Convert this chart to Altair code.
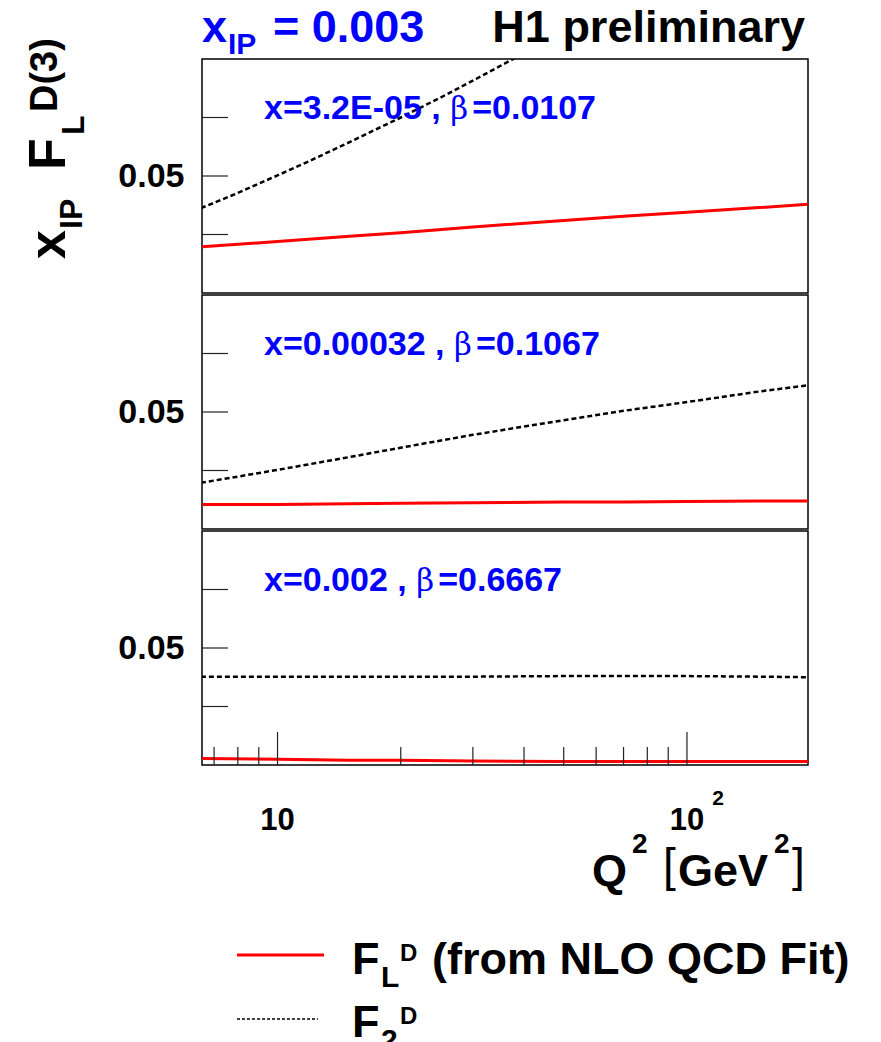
import altair as alt
import pandas as pd

# ---------------- data ----------------
q2 = [6.5, 10, 15, 20, 30, 50, 70, 100, 150, 200]

# panel 1 : x=3.2E-05, beta=0.0107
fl_1 = [0.0379, 0.0388, 0.0397, 0.0403, 0.0413, 0.0424, 0.0431, 0.0438, 0.0446, 0.0452]
q2_f2_1 = [6.5, 8, 10, 12, 15, 20, 25, 30, 40]
f2_1 = [0.0445, 0.0471, 0.0501, 0.0526, 0.0558, 0.0600, 0.0634, 0.0663, 0.0710]

# panel 2 : x=0.00032, beta=0.1067
fl_2 = [0.0342, 0.0342, 0.0343, 0.0344, 0.0345, 0.0346, 0.0346, 0.0347, 0.0348, 0.0348]
f2_2 = [0.0379, 0.0401, 0.0423, 0.0439, 0.0461, 0.0486, 0.0502, 0.0517, 0.0535, 0.0546]

# panel 3 : x=0.002, beta=0.6667
fl_3 = [0.0311, 0.0310, 0.0308, 0.0308, 0.0307, 0.0306, 0.0306, 0.0306, 0.0306, 0.0306]
f2_3 = [0.0451, 0.0451, 0.0451, 0.0451, 0.0451, 0.0452, 0.0452, 0.0452, 0.0451, 0.0450]

x_bins = ["x=3.2E-05 , ", "x=0.00032 , ", "x=0.002 , "]
betas = ["=0.0107", "=0.1067", "=0.6667"]

y_ticks = [0.04, 0.05, 0.06]
y_label_vals = [0.05]
x_minor = [7, 8, 9, 20, 30, 40, 50, 60, 70, 80, 90]
x_major = [10, 100]
x_major_labels = ["10", "10"]

# ---------------- styling ----------------
W, H = 606, 234
XDOM = [6.54, 197.5]
YDOM = [0.03, 0.07]
SANS = "Liberation Sans"
BLUE = "#0000ff"

# Liberation Sans Bold advance widths (em)
AW = {'x': .556, '=': .584, '.': .278, 'E': .667, '-': .333, ' ': .278, ',': .278}
for d in "0123456789":
    AW[d] = .556


def a_width(s, size):
    return sum(AW.get(c, .6) for c in s) * size


xs = alt.Scale(type='log', domain=XDOM)
ys = alt.Scale(domain=YDOM)
yaxis = alt.Axis(values=y_label_vals, format='.2f', ticks=False, domain=False, grid=False,
                 labelFont=SANS, labelFontSize=34, labelFontWeight='bold', labelColor='black',
                 labelPadding=18, labelBaseline='middle', title=None)
X = alt.X('q:Q', scale=xs, axis=None)
Y = alt.Y('v:Q', scale=ys, axis=yaxis)


def txt(text, x, y, size, font=SANS, color='black', weight='bold', align='left', angle=None):
    kw = dict(align=align, baseline='alphabetic', font=font, fontSize=size,
              fontWeight=weight, color=color)
    if angle is not None:
        kw['angle'] = angle
    return alt.Chart(pd.DataFrame({'t': [text]})).mark_text(**kw).encode(
        x=alt.value(x), y=alt.value(y), text='t:N')


def panel(idx, fl_v, f2_q, f2_v):
    layers = []
    top = idx == 0
    # invisible anchor fixing the left / top extent of every panel
    layers.append(alt.Chart(pd.DataFrame({'a': [0]})).mark_rule(color='white', strokeWidth=1).encode(
        x=alt.value(-192), x2=alt.value(-191),
        y=alt.value(-53 if top else 100), y2=alt.value(-52 if top else 101)))
    layers.append(alt.Chart(pd.DataFrame({'v': y_ticks})).mark_rule(color='#222', strokeWidth=1.2).encode(
        y=Y, x=alt.value(0), x2=alt.value(26)))
    layers.append(alt.Chart(pd.DataFrame({'q': f2_q, 'v': f2_v})).mark_line(
        color='black', strokeWidth=2.5, strokeDash=[5, 3], clip=True).encode(x=X, y=Y))
    layers.append(alt.Chart(pd.DataFrame({'q': q2, 'v': fl_v})).mark_line(
        color='red', strokeWidth=3, clip=True).encode(x=X, y=Y))
    # bin annotation
    fs = 34
    bx = 62 + a_width(x_bins[idx], fs)
    layers.append(txt(x_bins[idx], 62, 60, fs, color=BLUE))
    layers.append(txt("β", bx, 60, 31, font="DejaVu Serif", weight='normal', color=BLUE))
    layers.append(txt(betas[idx], bx + 22, 60, fs, color=BLUE))

    if top:
        layers.append(txt("x", 0, -17, 45, color=BLUE))
        layers.append(txt("IP", 26, -5, 30, color=BLUE))
        layers.append(txt("= 0.003", 71, -17, 45, color=BLUE))
        layers.append(txt("H1 preliminary", 603, -17, 45, align='right'))
        # rotated y title
        layers.append(txt("x", -137, 200, 52, angle=270))
        layers.append(txt("IP", -120, 170, 32, angle=270))
        layers.append(txt("F", -137, 111, 52, angle=270))
        layers.append(txt("L", -118, 76, 32, angle=270))
        layers.append(txt("D(3)", -145, 53, 38, angle=270))

    if idx == 2:
        layers.append(alt.Chart(pd.DataFrame({'q': x_minor})).mark_rule(color='#222', strokeWidth=1.2).encode(
            x=X, y=alt.value(H), y2=alt.value(H - 18)))
        layers.append(alt.Chart(pd.DataFrame({'q': x_major})).mark_rule(color='#222', strokeWidth=1.2).encode(
            x=X, y=alt.value(H), y2=alt.value(H - 33)))
        layers.append(alt.Chart(pd.DataFrame({'q': x_major, 't': x_major_labels})).mark_text(
            font=SANS, fontSize=31, fontWeight='bold', color='black', align='center', baseline='alphabetic').encode(
            x=X, y=alt.value(299), text='t:N'))
        layers.append(alt.Chart(pd.DataFrame({'q': [100], 't': ["2"]})).mark_text(
            font=SANS, fontSize=21, fontWeight='bold', color='black', align='center', baseline='alphabetic', dx=31).encode(
            x=X, y=alt.value(274), text='t:N'))
        # axis title Q^2 [GeV^2]
        layers.append(txt("Q", 390, 355, 45))
        layers.append(txt("2", 430, 322, 28))
        layers.append(txt("[", 461, 350, 46, weight='normal'))
        layers.append(txt("GeV", 476, 355, 45))
        layers.append(txt("2", 572, 322, 28))
        layers.append(txt("]", 590, 350, 46, weight='normal'))
        # legend
        layers.append(alt.Chart(pd.DataFrame({'a': [0]})).mark_rule(color='red', strokeWidth=3).encode(
            x=alt.value(35), x2=alt.value(122), y=alt.value(424)))
        layers.append(alt.Chart(pd.DataFrame({'a': [0]})).mark_rule(color='black', strokeWidth=1.6, strokeDash=[3, 2]).encode(
            x=alt.value(35), x2=alt.value(116), y=alt.value(488)))
        layers.append(txt("F", 150, 443, 45))
        layers.append(txt("L", 179, 456, 30))
        layers.append(txt("D", 198, 430, 24))
        layers.append(txt("(from NLO QCD Fit)", 230, 443, 45))
        layers.append(txt("F", 150, 506, 45))
        layers.append(txt("2", 179, 519, 30))
        layers.append(txt("D", 198, 493, 24))

    return alt.layer(*layers).properties(width=W, height=H)


p1 = panel(0, fl_1, q2_f2_1, f2_1)
p2 = panel(1, fl_2, q2, f2_2)
p3 = panel(2, fl_3, q2, f2_3)

chart = alt.vconcat(p1, p2, p3, spacing=0).properties(
    padding={"top": -4, "left": 0, "right": 0, "bottom": 0}, background='white'
).configure_view(stroke='black', strokeWidth=1.5)

chart.save("out.html", embed_options={"renderer": "svg", "actions": False})
